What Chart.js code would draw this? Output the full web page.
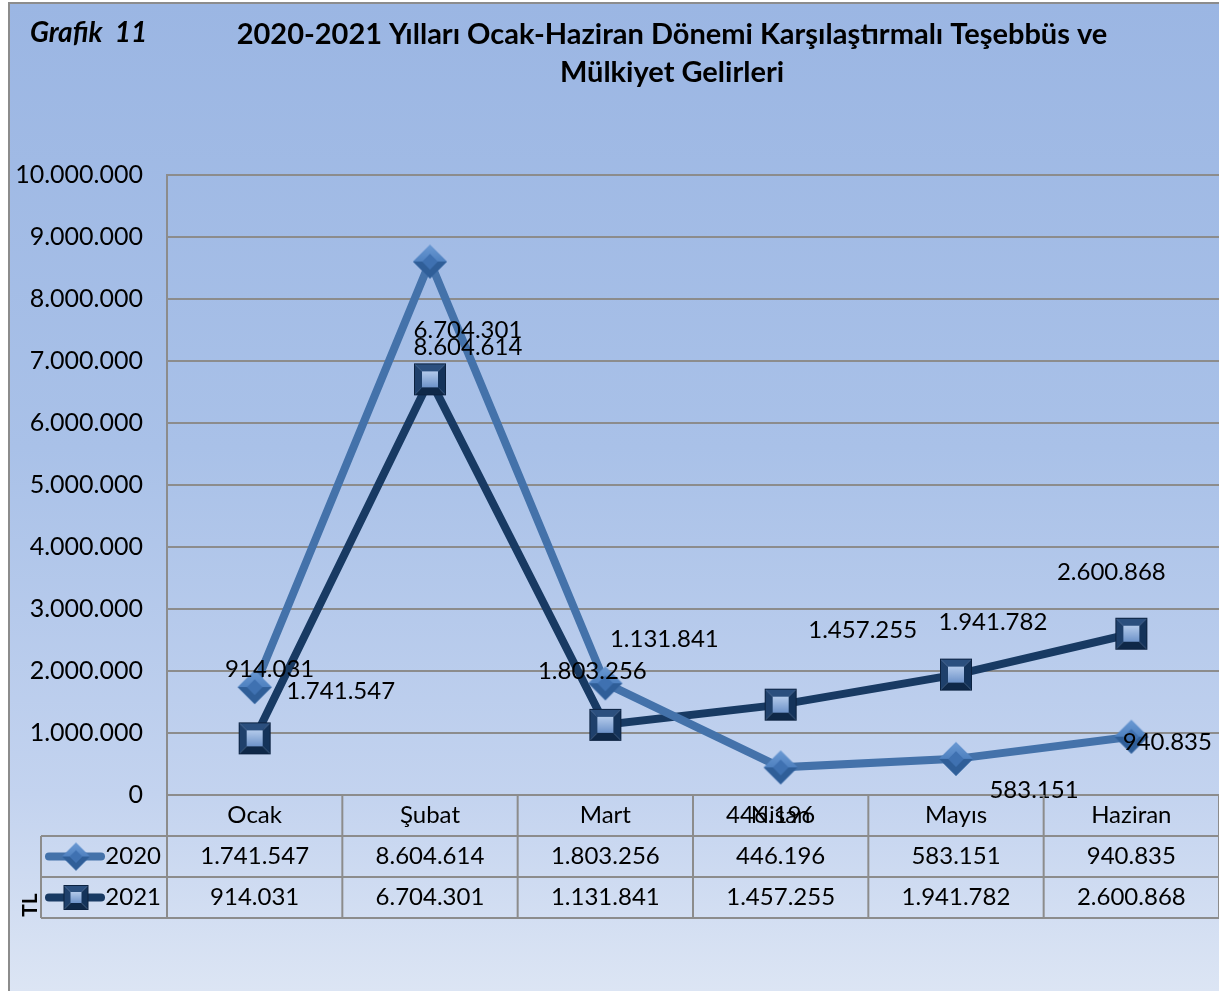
<!DOCTYPE html>
<html>
<head>
<meta charset="utf-8">
<script src="https://cdn.jsdelivr.net/npm/chart.js@4.4.1/dist/chart.umd.min.js"></script>
<style>
  html, body { margin: 0; padding: 0; background: #fff; }
  #kutu { width: 1219px; height: 991px; }
</style>
</head>
<body>
<div id="kutu"><canvas id="grafik" width="1219" height="991"></canvas></div>
<script>
// veriler
const aylar = ['Ocak', 'Şubat', 'Mart', 'Nisan', 'Mayıs', 'Haziran'];
const seriAdlari = ['2020', '2021'];
const gelir2020 = [1741547, 8604614, 1803256, 446196, 583151, 940835];
const gelir2021 = [914031, 6704301, 1131841, 1457255, 1941782, 2600868];
const yMin = 0;
const yMax = 10000000;
const yAdim = 1000000;

// etiketlerin noktaya göre kayması (Excel yerleşimine benzetmek için)
const kaydir2020 = [[86, 4], [38, 86], [-13, -12], [-10, 48], [78, 31], [36, 6]];
const kaydir2021 = [[15, -69], [38, -49], [59, -86], [82, -74], [37, -52], [-20, -61]];

const AILE = 'Lato, "Open Sans", sans-serif';
const acikMavi = '#4472AA';
const koyuMavi = '#183A63';

function noktali(n) {
    return String(Math.round(n)).replace(/\B(?=(\d{3})+(?!\d))/g, '.');
}

// kabartmalı kare işaret
function kareIsaret(boy) {
    const c = document.createElement('canvas');
    c.width = boy + 2; c.height = boy + 2;
    const g = c.getContext('2d');
    const s = boy, b = Math.round(boy * 0.26);
    const o = 1;
    // kenarlar
    g.fillStyle = '#2B4F7E';
    g.beginPath(); g.moveTo(o, o); g.lineTo(o + s, o); g.lineTo(o + s - b, o + b); g.lineTo(o + b, o + b); g.closePath(); g.fill();
    g.fillStyle = '#1F406B';
    g.beginPath(); g.moveTo(o, o); g.lineTo(o + b, o + b); g.lineTo(o + b, o + s - b); g.lineTo(o, o + s); g.closePath(); g.fill();
    g.fillStyle = '#0F2848';
    g.beginPath(); g.moveTo(o, o + s); g.lineTo(o + b, o + s - b); g.lineTo(o + s - b, o + s - b); g.lineTo(o + s, o + s); g.closePath(); g.fill();
    g.fillStyle = '#14335A';
    g.beginPath(); g.moveTo(o + s, o); g.lineTo(o + s, o + s); g.lineTo(o + s - b, o + s - b); g.lineTo(o + s - b, o + b); g.closePath(); g.fill();
    const ic = g.createLinearGradient(0, o + b, 0, o + s - b);
    ic.addColorStop(0, '#B3CAEB');
    ic.addColorStop(1, '#6E93C9');
    g.fillStyle = ic;
    g.fillRect(o + b, o + b, s - 2 * b, s - 2 * b);
    g.strokeStyle = '#0C2240';
    g.lineWidth = 1;
    g.strokeRect(o + 0.5, o + 0.5, s - 1, s - 1);
    return c;
}

// kabartmalı elmas işaret
function elmasIsaret(boy) {
    const c = document.createElement('canvas');
    c.width = boy + 2; c.height = boy + 2;
    const g = c.getContext('2d');
    const m = (boy + 2) / 2, r = boy / 2, ri = r * 0.45;
    const ust = g.createLinearGradient(0, m - r, 0, m);
    ust.addColorStop(0, '#6B9AD4');
    ust.addColorStop(1, '#4F81C0');
    g.fillStyle = ust;
    g.beginPath(); g.moveTo(m, m - r); g.lineTo(m + r, m); g.lineTo(m, m + r); g.lineTo(m - r, m); g.closePath(); g.fill();
    g.fillStyle = '#2F5E98';
    g.beginPath(); g.moveTo(m - r, m); g.lineTo(m - ri, m); g.lineTo(m, m + ri); g.lineTo(m + ri, m); g.lineTo(m + r, m); g.lineTo(m, m + r); g.closePath(); g.fill();
    g.fillStyle = '#3F71B1';
    g.beginPath(); g.moveTo(m, m - ri); g.lineTo(m + ri, m); g.lineTo(m, m + ri); g.lineTo(m - ri, m); g.closePath(); g.fill();
    return c;
}

const kare = kareIsaret(32);
const elmas = elmasIsaret(34);
const kareKucuk = kareIsaret(25);
const elmasKucuk = elmasIsaret(28);

const arkaPlan = {
    id: 'arkaPlan',
    beforeDraw(chart) {
        const ctx = chart.ctx;
        ctx.save();
        ctx.fillStyle = '#fff';
        ctx.fillRect(0, 0, chart.width, chart.height);
        const gr = ctx.createLinearGradient(0, 3, 0, chart.height);
        gr.addColorStop(0, '#9BB6E3');
        gr.addColorStop(0.45, '#A9C1E8');
        gr.addColorStop(0.8, '#C3D3EF');
        gr.addColorStop(1, '#DCE5F4');
        ctx.fillStyle = gr;
        ctx.fillRect(9, 3, chart.width - 9, chart.height - 3);
        ctx.strokeStyle = '#8C8C8C';
        ctx.lineWidth = 2;
        ctx.beginPath();
        ctx.moveTo(9, chart.height); ctx.lineTo(9, 3); ctx.lineTo(chart.width, 3);
        ctx.stroke();

        // başlıklar
        ctx.fillStyle = '#000';
        ctx.textBaseline = 'middle';
        ctx.font = 'italic bold 28px ' + AILE;
        ctx.textAlign = 'left';
        ctx.fillText('Grafik  11', 30, 33);
        ctx.font = 'bold 29px ' + AILE;
        ctx.textAlign = 'center';
        ctx.fillText('2020-2021 Yılları Ocak-Haziran Dönemi Karşılaştırmalı Teşebbüs ve', 672, 35);
        ctx.fillText('Mülkiyet Gelirleri', 672, 73);
        ctx.restore();
    }
};

const veriEtiketleri = {
    id: 'veriEtiketleri',
    afterDatasetsDraw(chart) {
        const ctx = chart.ctx;
        ctx.save();
        ctx.fillStyle = '#000';
        ctx.font = '24px ' + AILE;
        ctx.textAlign = 'center';
        ctx.textBaseline = 'middle';
        const kaymalar = [kaydir2020, kaydir2021];
        chart.data.datasets.forEach((ds, d) => {
            const meta = chart.getDatasetMeta(d);
            meta.data.forEach((pt, i) => {
                const k = kaymalar[d][i];
                ctx.fillText(noktali(ds.data[i]), pt.x + k[0], pt.y + k[1]);
            });
        });
        ctx.restore();
    }
};

const veriTablosu = {
    id: 'veriTablosu',
    afterDraw(chart) {
        const ctx = chart.ctx;
        const a = chart.chartArea;
        const xs = chart.scales.x;
        const sutun = (a.right - a.left) / aylar.length;
        const satir = 41;
        const solKenar = 41;
        const y0 = a.bottom;
        ctx.save();
        ctx.strokeStyle = '#8C8C8C';
        ctx.lineWidth = 2;
        ctx.beginPath();
        ctx.moveTo(a.left, y0 + satir); ctx.lineTo(a.left, y0);
        for (let r = 1; r <= 3; r++) {
            ctx.moveTo(solKenar, y0 + r * satir);
            ctx.lineTo(a.right, y0 + r * satir);
        }
        ctx.moveTo(solKenar, y0 + satir); ctx.lineTo(solKenar, y0 + 3 * satir);
        for (let i = 0; i <= aylar.length; i++) {
            const x = a.left + i * sutun;
            ctx.moveTo(x, y0); ctx.lineTo(x, y0 + 3 * satir);
        }
        ctx.stroke();

        ctx.fillStyle = '#000';
        ctx.font = '24px ' + AILE;
        ctx.textAlign = 'center';
        ctx.textBaseline = 'middle';
        const seriler = [gelir2020, gelir2021];
        aylar.forEach((ay, i) => {
            const x = xs.getPixelForValue(i);
            ctx.fillText(ay, x, y0 + satir / 2);
            seriler.forEach((s, r) => {
                ctx.fillText(noktali(s[i]), x, y0 + satir * (r + 1.5));
            });
        });

        // seri anahtarları
        const renkler = [acikMavi, koyuMavi];
        const isaretler = [elmasKucuk, kareKucuk];
        seriAdlari.forEach((ad, r) => {
            const yc = y0 + satir * (r + 1.5);
            ctx.strokeStyle = renkler[r];
            ctx.lineWidth = 8;
            ctx.lineCap = 'round';
            ctx.beginPath();
            ctx.moveTo(49, yc); ctx.lineTo(101, yc);
            ctx.stroke();
            const im = isaretler[r];
            ctx.drawImage(im, 76 - im.width / 2, yc - im.height / 2);
            ctx.textAlign = 'right';
            ctx.fillText(ad, 161, yc);
        });

        // birim
        ctx.translate(30, 905);
        ctx.rotate(-Math.PI / 2);
        ctx.font = 'bold 21px ' + AILE;
        ctx.textAlign = 'center';
        ctx.fillText('TL', 0, 0);
        ctx.restore();
    }
};

const ctx = document.getElementById('grafik').getContext('2d');

let chart = new Chart(ctx, {
    type: 'line',
    data: {
        labels: aylar,
        datasets: [{
            label: seriAdlari[0],
            data: gelir2020,
            borderColor: acikMavi,
            borderWidth: 8,
            pointStyle: elmas,
            pointRadius: 17,
            pointBorderWidth: 0,
            tension: 0
        }, {
            label: seriAdlari[1],
            data: gelir2021,
            borderColor: koyuMavi,
            borderWidth: 8,
            pointStyle: kare,
            pointRadius: 17,
            pointBorderWidth: 0,
            tension: 0
        }]
    },
    options: {
        responsive: false,
        animation: false,
        devicePixelRatio: 1,
        layout: { autoPadding: false, padding: { top: 175, bottom: 196, left: 0, right: 0 } },
        plugins: {
            legend: { display: false },
            tooltip: { enabled: false },
            title: { display: false }
        },
        scales: {
            x: {
                display: false,
                offset: true
            },
            y: {
                min: yMin,
                max: yMax,
                ticks: {
                    stepSize: yAdim,
                    color: '#000',
                    padding: 24,
                    font: { family: AILE, size: 25 },
                    callback: v => noktali(v)
                },
                grid: { color: '#8C8C8C', lineWidth: 2, drawTicks: false },
                border: { display: true, color: '#8C8C8C', width: 2 },
                afterFit: s => { s.width = 167; }
            }
        }
    },
    plugins: [arkaPlan, veriEtiketleri, veriTablosu]
});
</script>
</body>
</html>
